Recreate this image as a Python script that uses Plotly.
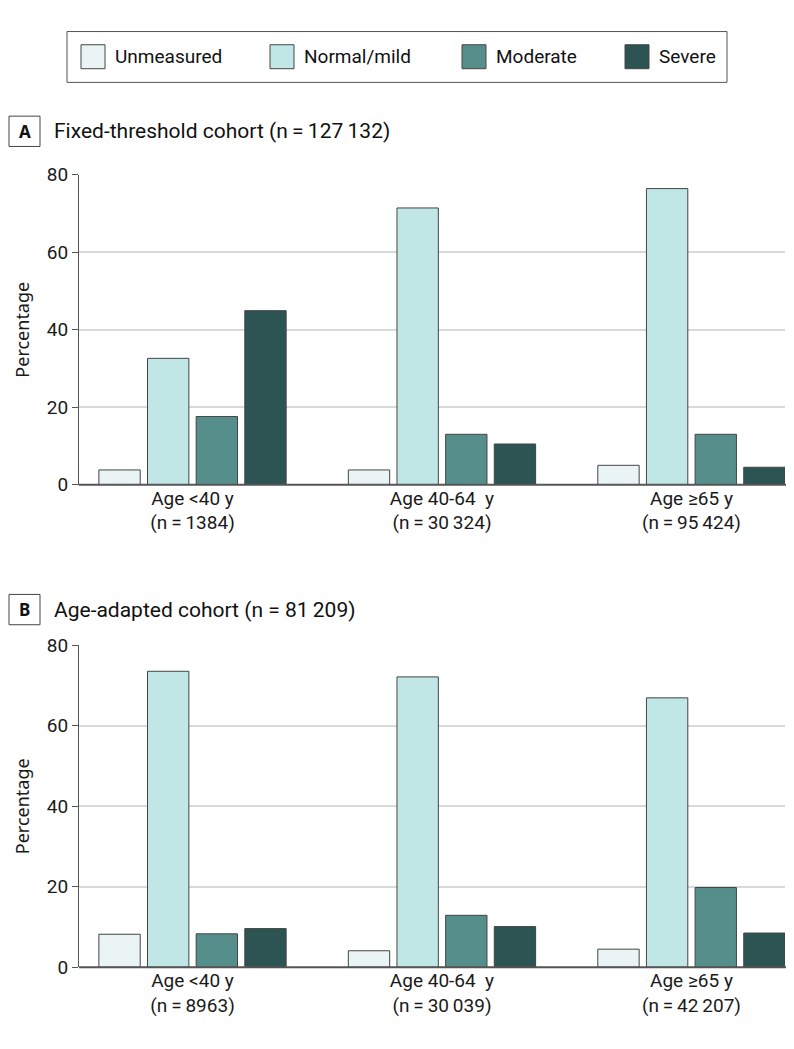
import plotly.graph_objects as go

# ---- data ----
series_names = ["Unmeasured", "Normal/mild", "Moderate", "Severe"]
series_colors = ["#EAF4F4", "#C0E6E5", "#568E8C", "#2B5453"]

labels_A = ["Age <40 y<br>(n\u2009=\u20091384)", "Age 40-64\u00a0 y<br>(n\u2009=\u200930\u2009324)", "Age \u226565 y<br>(n\u2009=\u200995\u2009424)"]
labels_B = ["Age <40 y<br>(n\u2009=\u20098963)", "Age 40-64\u00a0 y<br>(n\u2009=\u200930\u2009039)", "Age \u226565 y<br>(n\u2009=\u200942\u2009207)"]

unmeasured_A = [3.8, 3.8, 5.0]
normal_A = [32.6, 71.4, 76.4]
moderate_A = [17.6, 13.0, 13.0]
severe_A = [44.9, 10.5, 4.5]

unmeasured_B = [8.2, 4.1, 4.5]
normal_B = [73.5, 72.1, 66.9]
moderate_B = [8.3, 12.9, 19.8]
severe_B = [9.6, 10.1, 8.5]

title_A = "Fixed-threshold cohort (n\u2009=\u2009127\u2009132)"
title_B = "Age-adapted cohort (n = 81\u2009209)"

y_ticks = [0, 20, 40, 60, 80]

FONT = "Roboto, sans-serif"
FONT_REG = "Noto Sans, DejaVu Sans, sans-serif"

W, H = 794, 1049

def px(x):
    return x / W

def py(y):
    return 1 - y / H

fig = go.Figure()

panels = [
    ("x", "y", [unmeasured_A, normal_A, moderate_A, severe_A]),
    ("x2", "y2", [unmeasured_B, normal_B, moderate_B, severe_B]),
]
for xa, ya, vals in panels:
    for name, color, v in zip(series_names, series_colors, vals):
        fig.add_trace(go.Bar(
            x=[0, 1, 2], y=v, name=name, xaxis=xa, yaxis=ya,
            marker=dict(color=color, line=dict(color="#444444", width=1)),
            showlegend=False, hoverinfo="y",
        ))

X0, X1 = 79, 785
xdom = [px(X0), px(X1)]
xrange_ = [-0.455, 2.375]
common_x = dict(
    domain=xdom, range=xrange_, tickmode="array", tickvals=[0, 1, 2],
    showgrid=False, zeroline=False, showline=False, ticks="",
    tickfont=dict(family=FONT, size=19, color="#1a1a1a"),
)
common_y = dict(
    range=[0, 80], tickvals=y_ticks, showgrid=True, gridcolor="#d9d9d9", gridwidth=2,
    zeroline=False, showline=True, linecolor="#555", linewidth=1,
    ticks="outside", ticklen=6, tickcolor="#555", tickwidth=1,
    tickfont=dict(family=FONT, size=19, color="#1a1a1a"),
)

A_TOP, A_BOT = 167.3, 484.3
B_TOP, B_BOT = 648.3, 977.7

fig.update_layout(
    width=W, height=H, margin=dict(l=0, r=0, t=0, b=0),
    paper_bgcolor="white", plot_bgcolor="white",
    barmode="group", bargap=0.22, bargroupgap=0.15,
    xaxis=dict(**common_x, anchor="y", ticktext=labels_A),
    yaxis=dict(**common_y, anchor="x", domain=[py(A_BOT), py(A_TOP)]),
    xaxis2=dict(**common_x, anchor="y2", ticktext=labels_B),
    yaxis2=dict(**common_y, anchor="x2", domain=[py(B_BOT), py(B_TOP)]),
)

# bottom axis lines
for ybot in [A_BOT, B_BOT]:
    fig.add_shape(type="line", xref="paper", yref="paper",
                  x0=px(X0), x1=px(X1 + 1), y0=py(ybot), y1=py(ybot),
                  line=dict(color="#555", width=2))

# y-axis titles
for top, bot in [(A_TOP, A_BOT), (B_TOP, B_BOT)]:
    fig.add_annotation(x=px(22), y=py((top + bot) / 2), xref="paper", yref="paper",
                       text="Percentage", textangle=-90, showarrow=False,
                       font=dict(family=FONT_REG, size=18, color="#1a1a1a"),
                       xanchor="center", yanchor="middle")

# panel labels and titles
for letter, title, yc in [("A", title_A, 123), ("B", title_B, 612)]:
    fig.add_shape(type="rect", xref="paper", yref="paper",
                  x0=px(9), x1=px(40), y0=py(yc + 15.5), y1=py(yc - 15.5),
                  line=dict(color="#444", width=1), fillcolor="white")
    fig.add_annotation(x=px(24.5), y=py(yc), xref="paper", yref="paper",
                       text="<b>" + letter + "</b>", showarrow=False,
                       font=dict(family=FONT_REG, size=17, color="#111"),
                       xanchor="center", yanchor="middle")
    fig.add_annotation(x=px(52), y=py(yc), xref="paper", yref="paper",
                       text=title, showarrow=False,
                       font=dict(family=FONT, size=21, color="#111"),
                       xanchor="left", yanchor="middle")

# legend box
fig.add_shape(type="rect", xref="paper", yref="paper",
              x0=px(67), x1=px(727), y0=py(73), y1=py(21),
              line=dict(color="#555", width=1), fillcolor="white")
sw_x = [81, 270, 462, 625]
txt_x = [113, 302, 494, 657]
for name, color, sx, tx in zip(series_names, series_colors, sw_x, txt_x):
    fig.add_shape(type="rect", xref="paper", yref="paper",
                  x0=px(sx), x1=px(sx + 24), y0=py(59), y1=py(34.5),
                  line=dict(color="#444", width=1), fillcolor=color)
    fig.add_annotation(x=px(tx), y=py(46.5), xref="paper", yref="paper",
                       text=name, showarrow=False,
                       font=dict(family=FONT, size=19, color="#111"),
                       xanchor="left", yanchor="middle")

fig.write_html(
    "out.html",
    config={"displayModeBar": False},
    post_script="document.body.style.margin='0px';document.body.style.overflow='hidden';document.documentElement.style.overflow='hidden';",
)
